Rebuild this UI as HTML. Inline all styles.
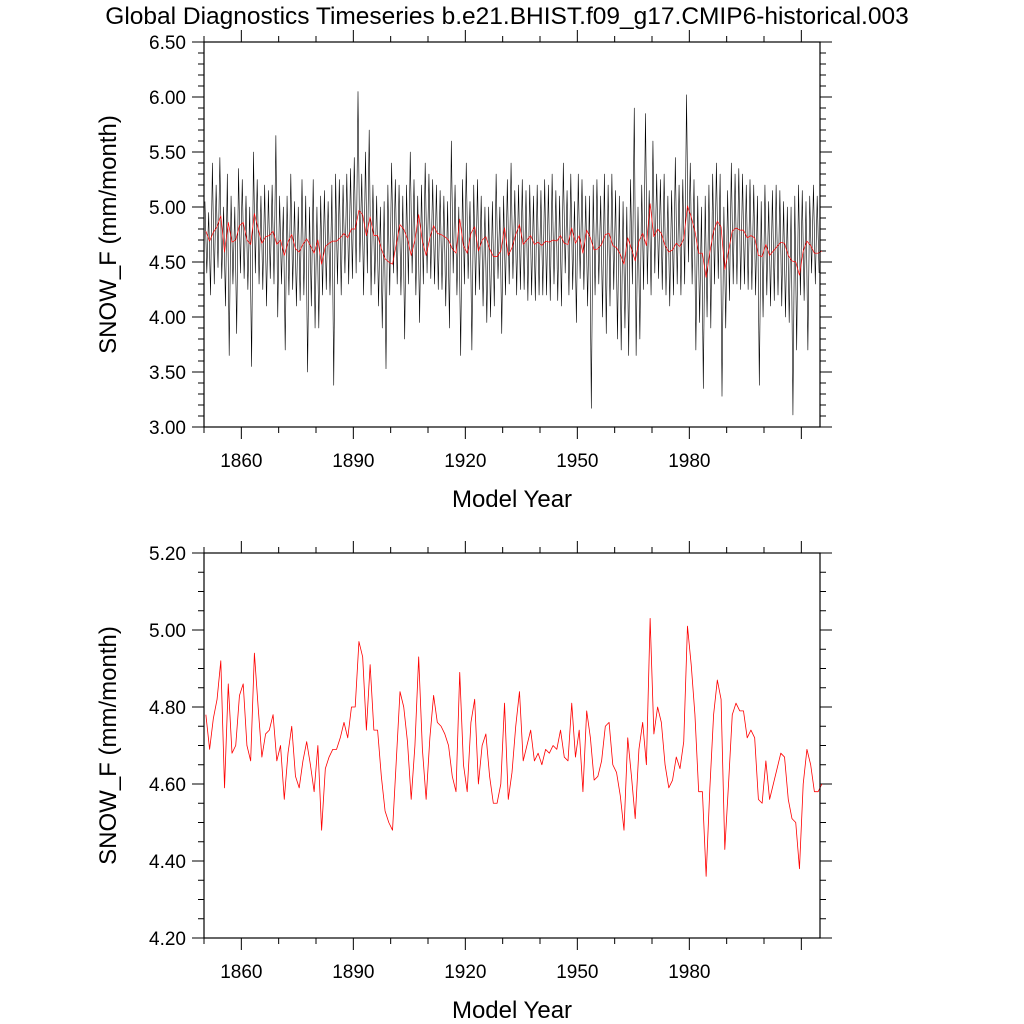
<!DOCTYPE html>
<html><head><meta charset="utf-8"><style>
html,body{margin:0;padding:0;background:#fff;}
svg{display:block;font-family:"Liberation Sans",sans-serif;}
</style></head><body>
<svg id="chart" width="1024" height="1024" viewBox="0 0 1024 1024" xmlns="http://www.w3.org/2000/svg">
<rect width="1024" height="1024" fill="#fff"/>
<text x="507" y="24" font-size="24.5" text-anchor="middle">Global Diagnostics Timeseries b.e21.BHIST.f09_g17.CMIP6-historical.003</text>
<g id="top"></g>
<g id="bot"></g>
</svg>
<script>
// Annual mean SNOW_F (mm/month), starting 1850
const annualValues = [4.78,4.69,4.77,4.82,4.92,4.59,4.86,4.68,4.70,4.83,4.86,4.70,4.66,4.94,4.80,4.67,4.73,4.74,4.78,4.66,
4.70,4.56,4.68,4.75,4.62,4.59,4.66,4.71,4.65,4.58,4.70,4.48,4.64,4.67,4.69,4.69,4.72,4.76,4.72,4.80,4.80,
4.97,4.93,4.74,4.91,4.74,4.74,4.62,4.53,4.50,4.48,4.66,4.84,4.80,4.71,4.56,4.70,4.93,4.69,4.56,4.72,4.83,
4.76,4.75,4.73,4.70,4.62,4.58,4.89,4.65,4.58,4.76,4.82,4.60,4.70,4.73,4.62,4.55,4.55,4.60,4.81,4.56,
4.63,4.75,4.84,4.66,4.70,4.74,4.66,4.68,4.65,4.69,4.68,4.70,4.69,4.74,4.67,4.66,4.81,4.67,4.74,4.58,
4.79,4.72,4.61,4.62,4.66,4.75,4.76,4.65,4.63,4.57,4.48,4.72,4.62,4.51,4.69,4.76,4.65,5.03,4.73,4.80,
4.76,4.65,4.59,4.61,4.67,4.64,4.71,5.01,4.91,4.78,4.58,4.58,4.36,4.59,4.78,4.87,4.82,4.43,4.60,4.78,
4.81,4.79,4.79,4.72,4.74,4.72,4.56,4.55,4.66,4.56,4.60,4.64,4.68,4.67,4.56,4.51,4.50,4.38,4.60,4.69,4.65,
4.58,4.58,4.60];
// Sub-annual samples (two per year: high, low), starting 1850
const monthlyValues = [
5.05,4.40, 4.95,4.20, 5.40,4.30, 5.20,4.45, 5.45,4.35, 5.00,4.10, 5.30,3.65, 5.10,4.30, 5.00,3.85, 5.35,4.40,
5.25,4.35, 5.10,4.25, 5.00,3.55, 5.50,4.40, 5.25,4.30, 5.10,4.25, 5.20,4.10, 5.15,4.35, 5.20,4.30, 5.65,4.00,
5.10,4.30, 5.00,3.70, 5.10,4.20, 5.30,4.25, 5.05,4.10, 5.00,4.15, 5.25,4.20, 5.10,3.50, 5.00,4.10, 5.25,3.90,
5.00,3.90, 5.10,4.20, 5.15,4.25, 5.05,4.20, 5.20,3.38, 5.30,4.30, 5.25,4.20, 5.20,4.40, 5.30,4.30, 5.35,4.35,
5.45,4.40, 6.05,4.50, 5.30,4.20, 5.50,4.40, 5.70,4.20, 5.20,4.30, 5.10,4.10, 5.00,3.90, 5.05,3.53, 5.20,4.20,
5.40,4.40, 5.25,4.30, 5.20,4.20, 5.10,3.80, 5.20,4.30, 5.50,4.40, 5.25,4.20, 5.10,3.95, 5.20,4.30, 5.40,4.40,
5.30,4.35, 5.25,4.30, 5.20,4.25, 5.15,4.25, 5.10,4.10, 5.05,3.90, 5.60,4.40, 5.20,4.20, 5.00,3.65, 5.25,4.30,
5.40,4.35, 5.05,3.70, 5.20,4.20, 5.25,4.25, 5.10,4.10, 5.00,3.95, 5.00,4.00, 5.05,4.10, 5.30,4.35, 5.00,3.85,
5.10,4.20, 5.25,4.30, 5.40,4.35, 5.15,4.20, 5.20,4.25, 5.25,4.25, 5.15,4.15, 5.20,4.20, 5.10,4.15, 5.20,4.20,
5.15,4.20, 5.25,4.20, 5.20,4.15, 5.30,4.30, 5.15,4.15, 5.10,4.10, 5.40,4.40, 5.15,4.20, 5.30,4.25, 5.05,3.95,
5.30,4.35, 5.25,4.25, 5.10,4.10, 5.10,3.17, 5.20,4.20, 5.25,4.30, 5.10,4.00, 5.30,3.85, 5.20,4.10, 5.30,4.25,
5.15,3.80, 5.10,3.70, 5.05,3.90,
5.00,3.65, 5.25,4.30, 5.90,3.65, 5.00,3.80, 5.20,4.25, 5.85,4.30, 5.15,4.20, 5.60,4.40, 5.30,4.35, 5.25,4.25,
5.30,4.20, 5.10,4.10, 5.15,4.20, 5.45,4.30, 5.20,4.20, 5.25,4.30, 6.02,4.50, 5.40,4.30, 5.25,3.70, 5.10,3.95, 5.00,3.35,
5.10,4.00, 5.20,3.90, 5.30,4.30, 5.40,4.35, 5.30,3.28, 5.00,3.90, 5.15,4.15, 5.40,4.30, 5.30,4.30, 5.35,4.25, 5.30,4.30,
5.20,4.25, 5.25,4.25, 5.20,4.20, 5.10,3.38, 5.05,4.00, 5.20,4.20, 5.05,4.10, 5.15,4.15, 5.20,4.20, 5.15,4.10,
5.05,4.00, 5.00,3.95, 5.00,3.11, 5.10,3.70, 5.20,4.20, 5.15,4.15, 5.05,3.70, 5.10,4.40, 5.20,4.30, 5.10,4.40];
const yearStart = 1850, yearEnd = 2015;
const xTickLabels = ["1860","1890","1920","1950","1980"];
const topYTickLabels = ["3.00","3.50","4.00","4.50","5.00","5.50","6.00","6.50"];
const botYTickLabels = ["4.20","4.40","4.60","4.80","5.00","5.20"];

const NS = "http://www.w3.org/2000/svg";
function mk(parent, tag, attrs){ const e=document.createElementNS(NS,tag); for(const k in attrs) e.setAttribute(k,attrs[k]); parent.appendChild(e); return e; }

function panel(g, top, bottom, ymin, ymax, yMajorLabels, yMinorStep, series){
  const L=204, R=820;
  const x = v => L + (v-yearStart)/(yearEnd-yearStart)*(R-L);
  const y = v => bottom - (v-ymin)/(ymax-ymin)*(bottom-top);
  let d="";
  for(let yr=1850; yr<=yearEnd; yr+=10){
    const major = (yr-1860)%30===0;
    const len = major?12:6, px=x(yr);
    d+=`M${px} ${bottom}v${len}M${px} ${top}v${-len}`;
  }
  const nMinor = Math.round((ymax-ymin)/yMinorStep);
  const majorEvery = Math.round((parseFloat(yMajorLabels[1])-parseFloat(yMajorLabels[0]))/yMinorStep);
  for(let i=0;i<=nMinor;i++){
    const py = y(ymin+i*yMinorStep), len = i%majorEvery===0?12:6;
    d+=`M${L} ${py}h${-len}M${R} ${py}h${len}`;
  }
  const t=mk(g,'path',{d:d,stroke:'#000','stroke-width':1,fill:'none'});
  
  
  xTickLabels.forEach(s=>{
    const e=mk(g,'text',{x:x(+s),y:bottom+40,'font-size':19,'text-anchor':'middle'}); e.textContent=s;
    
    
  });
  yMajorLabels.forEach(s=>{
    const e=mk(g,'text',{x:L-18,y:y(+s)+7,'font-size':19,'text-anchor':'end'}); e.textContent=s;
    
    
  });
  series.forEach(s=>{
    const pts=s.vals.map((v,i)=>`${x(yearStart+s.off+i*s.step).toFixed(2)},${y(v).toFixed(2)}`).join(' ');
    const p=mk(g,'polyline',{points:pts,fill:'none',stroke:s.color,'stroke-width':s.w,'stroke-linejoin':'round'});
    
    
  });
  const f=mk(g,'rect',{x:L,y:top,width:R-L,height:bottom-top,fill:'none',stroke:'#000','stroke-width':1.2});
  
  
  const xt=mk(g,'text',{x:(L+R)/2,y:bottom+80,'font-size':24,'text-anchor':'middle'}); xt.textContent="Model Year";
  
  
  const cy=(top+bottom)/2;
  const yt=mk(g,'text',{x:116,y:cy,'font-size':24,'text-anchor':'middle',transform:`rotate(-90 116 ${cy})`}); yt.textContent="SNOW_F (mm/month)";
  
  
}
panel(document.getElementById('top'),42,427,3.0,6.5,topYTickLabels,0.1,[
  {vals:monthlyValues,off:0.25,step:0.5,color:'#000',w:0.6,name:'monthly-series'},
  {vals:annualValues,off:0.5,step:1,color:'#f00',w:0.7,name:'annual-series'}]);
panel(document.getElementById('bot'),553,938,4.2,5.2,botYTickLabels,0.05,[
  {vals:annualValues,off:0.5,step:1,color:'#f00',w:0.8,name:'annual-series'}]);
</script>
</body></html>
